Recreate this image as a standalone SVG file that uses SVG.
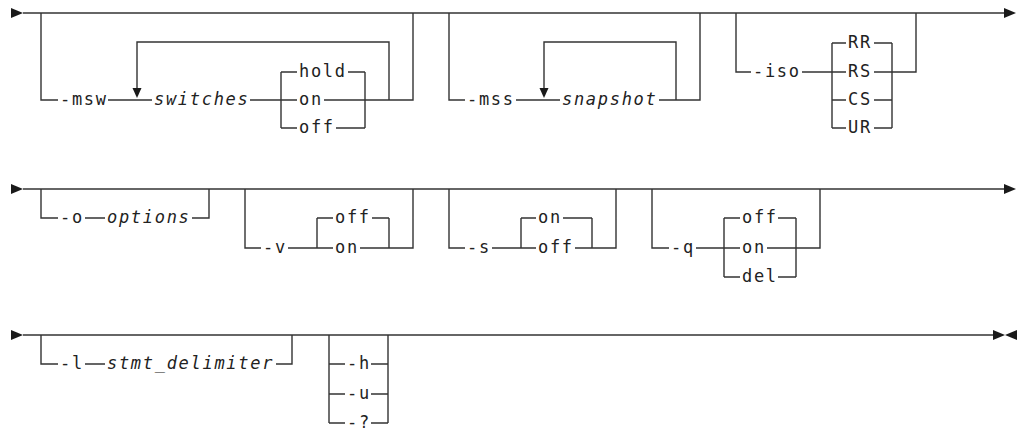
<svg xmlns="http://www.w3.org/2000/svg" width="1018" height="430" viewBox="0 0 1018 430">
<style>
.c{fill:none;stroke:#333;stroke-width:1.4}
.a{fill:#1a1a1a;stroke:none}
text{font-family:"DejaVu Sans Mono","Liberation Mono",monospace;font-size:17px;letter-spacing:1.7px;fill:#222}
.i{font-style:italic}
</style>
<rect width="1018" height="430" fill="#fff"/>
<g id="connectors">
<!-- row 1 -->
<path class="c" d="M23,13 H1004"/>
<path class="c" d="M41,13 V100 H58 M108,100 H152 M250,100 H297 M324,100 H413 V13"/>
<path class="c" d="M281,72 V128 M365,72 V128 M281,72 H297 M348,72 H365 M281,128 H297 M336,128 H365"/>
<path class="c" d="M389,100 V42 H137 V88"/>
<path class="c" d="M449,13 V100 H465 M516,100 H560 M659,100 H700 V13"/>
<path class="c" d="M676,100 V42 H544 V88"/>
<path class="c" d="M736,13 V72 H751 M802,72 H846 M874,72 H916 V13"/>
<path class="c" d="M832,43 V128 M892,43 V128 M832,43 H846 M874,43 H892 M832,100 H846 M874,100 H892 M832,128 H846 M874,128 H892"/>
<polygon class="a" points="11,8 23,13 11,18"/>
<polygon class="a" points="1004,8 1016,13 1004,18"/>
<polygon class="a" points="132.5,88 141.5,88 137,98"/>
<polygon class="a" points="539.5,88 548.5,88 544,98"/>
<!-- row 2 -->
<path class="c" d="M23,189 H1004"/>
<path class="c" d="M41,189 V218 H58 M85,218 H105 M192,218 H209 V189"/>
<path class="c" d="M245,189 V248 H261 M288,248 H333 M360,248 H413 V189 M317,218 V248 M389,218 V248 M317,218 H333 M372,218 H389"/>
<path class="c" d="M449,189 V248 H465 M492,248 H536 M575,248 H616 V189 M521,218 V248 M592,218 V248 M521,218 H536 M563,218 H592"/>
<path class="c" d="M652,189 V248 H669 M696,248 H740 M767,248 H820 V189 M724,218 V277 M796,218 V277 M724,218 H740 M778,218 H796 M724,277 H740 M778,277 H796"/>
<polygon class="a" points="11,184 23,189 11,194"/>
<polygon class="a" points="1004,184 1016,189 1004,194"/>
<!-- row 3 -->
<path class="c" d="M23,335 H993"/>
<path class="c" d="M41,335 V364 H58 M85,364 H105 M276,364 H292 V335"/>
<path class="c" d="M329,335 V423 M388,335 V423 M329,364 H345 M371,364 H388 M329,394 H345 M371,394 H388 M329,423 H345 M371,423 H388"/>
<polygon class="a" points="11,330 23,335 11,340"/>
<polygon class="a" points="993,330 1005,335 993,340"/>
<polygon class="a" points="1017,330 1005,335 1017,340"/>
</g>
<g id="msw"><text x="60" y="105">-msw</text></g>
<g id="switches"><text class="i" x="154" y="105">switches</text></g>
<g id="msw-values"><text x="299" y="77">hold</text><text x="299" y="105">on</text><text x="299" y="133">off</text></g>
<g id="mss"><text x="467" y="105">-mss</text></g>
<g id="snapshot"><text class="i" x="562" y="105">snapshot</text></g>
<g id="iso"><text x="753" y="77">-iso</text></g>
<g id="iso-values"><text x="848" y="48">RR</text><text x="848" y="77">RS</text><text x="848" y="105">CS</text><text x="848" y="133">UR</text></g>
<g id="o"><text x="60" y="223">-o</text></g>
<g id="options"><text class="i" x="107" y="223">options</text></g>
<g id="v"><text x="263" y="253">-v</text></g>
<g id="v-values"><text x="335" y="223">off</text><text x="335" y="253">on</text></g>
<g id="s"><text x="467" y="253">-s</text></g>
<g id="s-values"><text x="538" y="223">on</text><text x="538" y="253">off</text></g>
<g id="q"><text x="671" y="253">-q</text></g>
<g id="q-values"><text x="742" y="223">off</text><text x="742" y="253">on</text><text x="742" y="282">del</text></g>
<g id="l"><text x="60" y="369">-l</text></g>
<g id="stmt_delimiter"><text class="i" x="107" y="369">stmt_delimiter</text></g>
<g id="help"><text x="347" y="369">-h</text><text x="347" y="399">-u</text><text x="347" y="428">-?</text></g>
</svg>
